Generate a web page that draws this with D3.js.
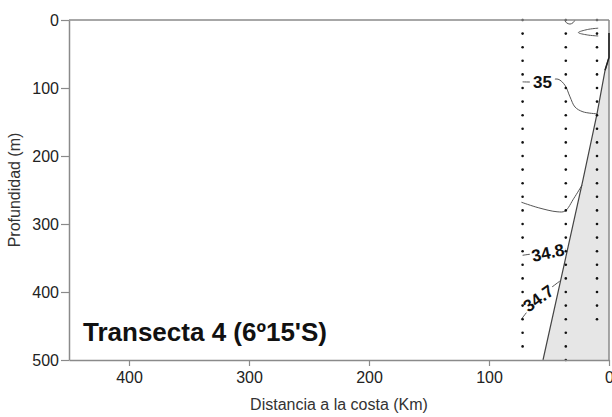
<!DOCTYPE html>
<html>
<head>
<meta charset="utf-8">
<script src="https://cdn.jsdelivr.net/npm/d3@7"></script>
<style>
  body { margin: 0; background: #fff; }
  text { font-family: "Liberation Sans", Arial, sans-serif; }
</style>
</head>
<body>
<div id="chart"></div>
<script>
"use strict"
// Data (distance km, depth m)
var xTicks = [400, 300, 200, 100, 0];
var yTicks = [0, 100, 200, 300, 400, 500];
var sampleDepths = [0, 20, 40, 60, 80, 100, 120, 140, 160, 180, 200, 220, 240, 260, 280,
    300, 320, 340, 360, 380, 400, 420, 440, 460, 480, 500];
var stationKm = [72, 36, 10];
var stationMaxDepth = [480, 500, 440];

var bathymetry = [[55, 500], [21.7, 235], [10, 138], [3.3, 74], [0, 55], [0, 19]];

var contour35 = [[72, 91], [58, 91], [50, 89], [42.5, 87], [36.7, 96], [32.5, 113], [28.3, 128], [21.7, 135], [10, 138]];
var contour349 = [[73, 268], [59, 276], [43.3, 282], [36.7, 281], [29.2, 262], [22.5, 243]];
var contour348 = [[72, 346], [60, 343], [45, 340], [36, 337]];
var contour347 = [[73, 440], [59, 410], [41, 384]];
var contourTopU = [[37, 0], [35.5, 4], [32.5, 6], [30, 4], [28.3, 0]];
var contourTopV = [[9, 12], [18, 14], [25.5, 18.5], [18, 22], [9, 23.5]];

var contourLabels = [
    {text: "35", km: 55.5, depth: 91, angle: 0, w: 25},
    {text: "34.8", km: 51, depth: 342, angle: -12, w: 36},
    {text: "34.7", km: 59, depth: 409, angle: -36, w: 36}
];

var title = "Transecta 4 (6º15'S)";
var xAxisTitle = "Distancia a la costa (Km)";
var yAxisTitle = "Profundidad (m)";

var width = 612;
var height = 417;
var margin = {top: 20, right: 3, bottom: 57, left: 69};

var xScale = d3.scaleLinear().domain([450, 0]).range([margin.left, width - margin.right]);
var yScale = d3.scaleLinear().domain([0, 500]).range([margin.top, height - margin.bottom]);

var axisColor = "#8a8a8a";
var lineColor = "#555";

var svg = d3.select("#chart").append("svg")
    .attr("width", width)
    .attr("height", height);

var line = d3.line()
    .x(function(d) {return xScale(d[0])})
    .y(function(d) {return yScale(d[1])});

var smooth = d3.line()
    .curve(d3.curveCatmullRom)
    .x(function(d) {return xScale(d[0])})
    .y(function(d) {return yScale(d[1])});

// Land (shaded)
var landPoly = bathymetry.concat([[0, 500]]);
svg.append("path")
    .attr("d", line(landPoly) + "Z")
    .attr("fill", "#e6e6e6")
    .attr("stroke", "none");

// Contours
[contour35, contour349, contour348, contour347, contourTopU, contourTopV].forEach(function(c) {
    svg.append("path")
        .attr("d", smooth(c))
        .attr("fill", "none")
        .attr("stroke", lineColor)
        .attr("stroke-width", 1);
});

// Contour labels with white knock-out
contourLabels.forEach(function(l) {
    var g = svg.append("g")
        .attr("transform", "translate(" + xScale(l.km) + "," + yScale(l.depth) + ") rotate(" + l.angle + ")");
    g.append("rect")
        .attr("x", -l.w / 2).attr("y", -8)
        .attr("width", l.w).attr("height", 16)
        .attr("fill", "#fff");
    g.append("text")
        .attr("text-anchor", "middle")
        .attr("dy", "0.36em")
        .attr("font-size", "17px")
        .attr("font-weight", "bold")
        .attr("fill", "#111")
        .text(l.text);
});

// Bathymetry line
svg.append("path")
    .attr("d", line(bathymetry))
    .attr("fill", "none")
    .attr("stroke", "#444")
    .attr("stroke-width", 1.2);

// Station dots
stationKm.forEach(function(km, i) {
    var depths = sampleDepths.filter(function(d) {return d <= stationMaxDepth[i]});
    svg.selectAll(null)
        .data(depths)
        .enter()
        .append("circle")
        .attr("cx", xScale(km))
        .attr("cy", function(d) {return yScale(d)})
        .attr("r", 1.3)
        .attr("fill", "#111");
});

// Frame (top/right)
svg.append("line")
    .attr("x1", xScale(450)).attr("x2", xScale(0))
    .attr("y1", yScale(0)).attr("y2", yScale(0))
    .attr("stroke", axisColor).attr("stroke-width", 1.5);
svg.append("line")
    .attr("x1", xScale(0)).attr("x2", xScale(0))
    .attr("y1", yScale(0)).attr("y2", yScale(500))
    .attr("stroke", axisColor).attr("stroke-width", 1.5);

// Bathymetry along the right edge sits on top of the frame
svg.append("path")
    .attr("d", line(bathymetry.slice(3)))
    .attr("fill", "none")
    .attr("stroke", "#222")
    .attr("stroke-width", 1.5);

// Axes
var xAxis = d3.axisBottom(xScale).tickValues(xTicks).tickSize(6).tickSizeOuter(0).tickPadding(6).tickFormat(d3.format("d"));
var yAxis = d3.axisLeft(yScale).tickValues(yTicks).tickSize(8).tickSizeOuter(0).tickPadding(2).tickFormat(d3.format("d"));

var gx = svg.append("g")
    .attr("transform", "translate(0," + yScale(500) + ")")
    .call(xAxis);
var gy = svg.append("g")
    .attr("transform", "translate(" + xScale(450) + ",0)")
    .call(yAxis);

[gx, gy].forEach(function(g) {
    g.select(".domain").attr("stroke", axisColor).attr("stroke-width", 1.5);
    g.selectAll(".tick line").attr("stroke", axisColor).attr("stroke-width", 1.2);
    g.selectAll(".tick text")
        .attr("font-size", "16px")
        .attr("font-family", "Liberation Sans, Arial, sans-serif")
        .attr("fill", "#222");
});

// Titles
svg.append("text")
    .attr("x", 83)
    .attr("y", 341)
    .attr("font-size", "26px")
    .attr("font-weight", "bold")
    .attr("fill", "#111")
    .text(title);

svg.append("text")
    .attr("x", (xScale(450) + xScale(0)) / 2)
    .attr("y", 410)
    .attr("text-anchor", "middle")
    .attr("font-size", "16px")
    .attr("fill", "#333")
    .text(xAxisTitle);

svg.append("text")
    .attr("transform", "translate(20," + (yScale(250)) + ") rotate(-90)")
    .attr("text-anchor", "middle")
    .attr("font-size", "16px")
    .attr("fill", "#333")
    .text(yAxisTitle);
</script>
</body>
</html>
